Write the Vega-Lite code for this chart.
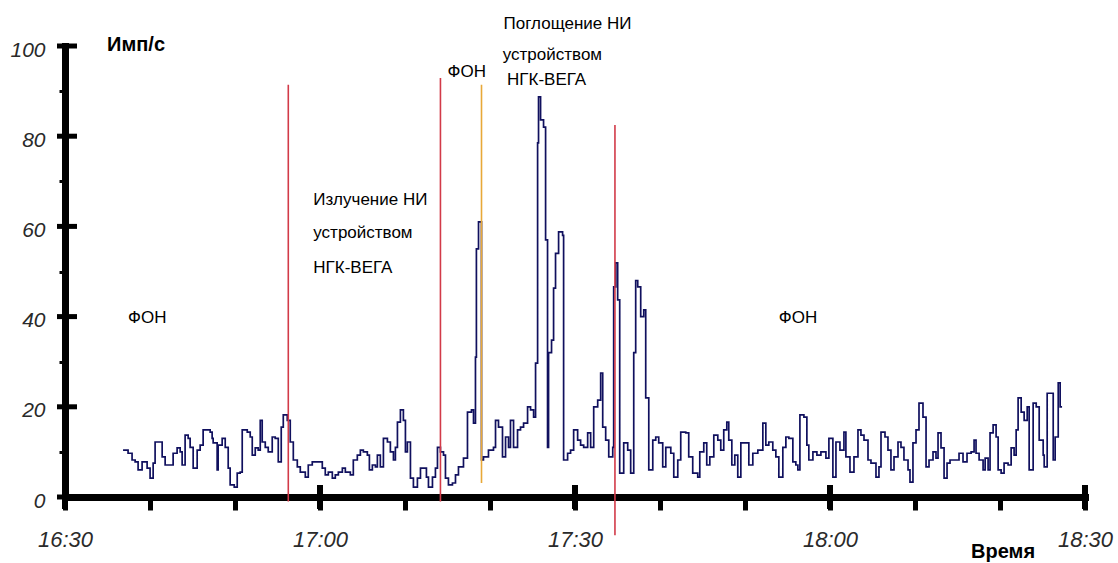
{
  "$schema": "https://vega.github.io/schema/vega-lite/v6.json",
  "width": 1020,
  "height": 451,
  "autosize": {"type": "none"},
  "padding": {"left": 65, "top": 46, "right": 33, "bottom": 66},
  "background": "white",
  "config": {"view": {"stroke": null}, "axis": {"grid": false}},
  "datasets": {
    "signal": [
      {"t":6.83,"v":10.4},{"t":7.42,"v":9.7},{"t":7.89,"v":8.2},{"t":8.25,"v":7.8},{"t":8.60,"v":6.0},{"t":9.07,"v":7.8},{"t":9.66,"v":6.4},{"t":10.01,"v":4.2},{"t":10.37,"v":7.5},{"t":10.60,"v":12.2},{"t":11.43,"v":8.9},{"t":11.78,"v":7.1},{"t":12.72,"v":9.7},{"t":13.19,"v":10.9},{"t":13.55,"v":10.0},{"t":13.78,"v":7.1},{"t":14.13,"v":13.7},{"t":14.49,"v":13.0},{"t":14.72,"v":11.0},{"t":15.08,"v":6.4},{"t":15.55,"v":10.4},{"t":15.90,"v":11.5},{"t":16.25,"v":14.9},{"t":17.08,"v":14.4},{"t":17.31,"v":13.0},{"t":17.43,"v":12.0},{"t":17.90,"v":6.0},{"t":18.02,"v":11.5},{"t":18.49,"v":13.0},{"t":18.85,"v":11.0},{"t":19.20,"v":6.4},{"t":19.43,"v":2.7},{"t":19.91,"v":2.2},{"t":20.26,"v":5.3},{"t":20.61,"v":5.5},{"t":20.85,"v":14.9},{"t":21.44,"v":14.4},{"t":21.79,"v":13.3},{"t":22.03,"v":9.3},{"t":22.38,"v":10.9},{"t":22.73,"v":10.4},{"t":22.97,"v":17.0},{"t":23.20,"v":12.2},{"t":23.56,"v":11.0},{"t":23.91,"v":10.0},{"t":24.38,"v":13.3},{"t":24.73,"v":13.0},{"t":25.09,"v":7.8},{"t":25.44,"v":15.5},{"t":25.68,"v":18.2},{"t":26.15,"v":17.0},{"t":26.50,"v":12.2},{"t":26.86,"v":8.2},{"t":27.33,"v":6.7},{"t":27.68,"v":5.5},{"t":28.27,"v":4.4},{"t":28.62,"v":7.1},{"t":29.09,"v":7.8},{"t":30.27,"v":6.4},{"t":30.62,"v":4.9},{"t":30.98,"v":5.5},{"t":31.45,"v":4.2},{"t":31.80,"v":4.9},{"t":32.16,"v":5.5},{"t":32.63,"v":6.4},{"t":32.98,"v":5.5},{"t":33.57,"v":4.9},{"t":33.92,"v":8.2},{"t":34.39,"v":9.3},{"t":34.75,"v":10.4},{"t":35.10,"v":10.0},{"t":35.57,"v":9.3},{"t":35.81,"v":6.0},{"t":36.16,"v":7.1},{"t":36.52,"v":6.7},{"t":36.75,"v":9.3},{"t":37.10,"v":6.7},{"t":37.46,"v":13.0},{"t":37.93,"v":12.2},{"t":38.28,"v":10.0},{"t":38.64,"v":8.2},{"t":38.87,"v":11.0},{"t":39.11,"v":16.6},{"t":39.46,"v":19.3},{"t":39.81,"v":17.0},{"t":40.05,"v":10.0},{"t":40.28,"v":12.2},{"t":40.64,"v":4.2},{"t":40.99,"v":2.2},{"t":41.46,"v":4.2},{"t":41.82,"v":6.4},{"t":42.52,"v":4.4},{"t":42.76,"v":2.2},{"t":43.23,"v":4.4},{"t":43.58,"v":6.4},{"t":43.82,"v":11.0},{"t":44.17,"v":10.0},{"t":44.53,"v":9.3},{"t":44.76,"v":4.2},{"t":45.11,"v":2.7},{"t":45.58,"v":3.1},{"t":45.94,"v":4.9},{"t":46.29,"v":6.7},{"t":46.88,"v":8.6},{"t":47.35,"v":18.8},{"t":47.82,"v":19.3},{"t":48.06,"v":16.4},{"t":48.29,"v":31.0},{"t":48.40,"v":55.0},{"t":48.65,"v":61.0},{"t":49.00,"v":8.2},{"t":49.23,"v":8.9},{"t":49.82,"v":10.4},{"t":50.41,"v":11.0},{"t":50.65,"v":17.0},{"t":51.00,"v":15.5},{"t":51.47,"v":8.9},{"t":51.83,"v":13.3},{"t":52.18,"v":11.0},{"t":52.41,"v":17.0},{"t":52.77,"v":11.0},{"t":53.24,"v":14.9},{"t":53.59,"v":15.5},{"t":53.95,"v":16.4},{"t":54.42,"v":20.0},{"t":54.77,"v":19.3},{"t":55.13,"v":17.7},{"t":55.36,"v":29.7},{"t":55.60,"v":78.5},{"t":55.71,"v":88.7},{"t":55.95,"v":83.6},{"t":56.30,"v":82.0},{"t":56.54,"v":57.0},{"t":56.77,"v":11.0},{"t":56.89,"v":32.0},{"t":57.24,"v":34.8},{"t":57.48,"v":46.3},{"t":57.71,"v":54.0},{"t":58.07,"v":58.8},{"t":58.54,"v":58.0},{"t":58.66,"v":8.2},{"t":59.13,"v":9.7},{"t":59.48,"v":10.4},{"t":59.84,"v":14.9},{"t":60.31,"v":12.6},{"t":60.66,"v":11.5},{"t":61.02,"v":11.0},{"t":61.49,"v":14.2},{"t":61.84,"v":11.0},{"t":62.20,"v":20.0},{"t":62.67,"v":21.5},{"t":63.02,"v":27.5},{"t":63.26,"v":15.5},{"t":63.61,"v":12.6},{"t":63.97,"v":8.9},{"t":64.44,"v":11.0},{"t":64.55,"v":46.6},{"t":64.79,"v":51.9},{"t":65.02,"v":43.7},{"t":65.26,"v":5.3},{"t":65.73,"v":12.0},{"t":66.20,"v":10.4},{"t":66.55,"v":5.3},{"t":66.91,"v":32.0},{"t":67.14,"v":48.0},{"t":67.38,"v":46.6},{"t":67.73,"v":40.0},{"t":68.09,"v":41.5},{"t":68.32,"v":22.0},{"t":68.68,"v":6.0},{"t":69.15,"v":12.6},{"t":69.50,"v":13.3},{"t":69.85,"v":12.0},{"t":70.32,"v":6.7},{"t":70.68,"v":11.0},{"t":71.27,"v":9.7},{"t":71.62,"v":4.4},{"t":72.09,"v":8.2},{"t":72.44,"v":14.4},{"t":73.03,"v":14.2},{"t":73.38,"v":8.9},{"t":73.85,"v":5.3},{"t":74.44,"v":4.4},{"t":74.68,"v":10.0},{"t":75.15,"v":12.0},{"t":75.50,"v":7.1},{"t":75.86,"v":8.9},{"t":76.33,"v":13.7},{"t":76.80,"v":12.6},{"t":77.15,"v":10.4},{"t":77.50,"v":14.9},{"t":77.86,"v":16.6},{"t":78.09,"v":12.6},{"t":78.45,"v":7.1},{"t":78.80,"v":9.3},{"t":79.15,"v":4.4},{"t":79.51,"v":12.0},{"t":80.45,"v":7.1},{"t":80.92,"v":9.7},{"t":81.51,"v":10.4},{"t":82.10,"v":16.4},{"t":82.45,"v":11.5},{"t":82.80,"v":12.2},{"t":83.27,"v":10.4},{"t":83.63,"v":8.9},{"t":83.98,"v":4.4},{"t":84.45,"v":11.0},{"t":84.81,"v":13.3},{"t":85.16,"v":13.0},{"t":85.63,"v":7.8},{"t":85.98,"v":7.1},{"t":86.22,"v":6.0},{"t":86.46,"v":18.2},{"t":86.93,"v":17.7},{"t":87.28,"v":11.5},{"t":87.51,"v":8.2},{"t":87.99,"v":10.0},{"t":88.46,"v":9.3},{"t":88.93,"v":10.0},{"t":89.52,"v":8.6},{"t":89.87,"v":13.0},{"t":90.34,"v":4.4},{"t":90.70,"v":12.2},{"t":91.17,"v":10.4},{"t":91.64,"v":14.4},{"t":91.87,"v":8.9},{"t":92.35,"v":5.5},{"t":92.82,"v":8.9},{"t":93.29,"v":14.9},{"t":93.64,"v":13.7},{"t":94.00,"v":12.6},{"t":94.47,"v":8.2},{"t":94.82,"v":7.5},{"t":95.41,"v":4.4},{"t":95.76,"v":6.7},{"t":96.00,"v":14.4},{"t":96.47,"v":13.3},{"t":96.82,"v":10.4},{"t":97.17,"v":6.0},{"t":97.53,"v":8.9},{"t":98.00,"v":12.2},{"t":98.35,"v":11.0},{"t":98.70,"v":8.2},{"t":99.18,"v":6.0},{"t":99.41,"v":3.3},{"t":99.76,"v":12.0},{"t":100.12,"v":14.9},{"t":100.47,"v":20.8},{"t":100.94,"v":17.7},{"t":101.30,"v":6.7},{"t":101.65,"v":8.2},{"t":102.12,"v":10.0},{"t":102.47,"v":8.6},{"t":102.71,"v":14.2},{"t":103.06,"v":10.9},{"t":103.42,"v":4.2},{"t":103.77,"v":7.5},{"t":104.12,"v":8.2},{"t":105.18,"v":9.7},{"t":105.65,"v":7.8},{"t":106.12,"v":9.7},{"t":106.60,"v":10.0},{"t":106.95,"v":12.6},{"t":107.18,"v":9.7},{"t":107.54,"v":8.2},{"t":108.01,"v":6.0},{"t":108.25,"v":8.6},{"t":108.60,"v":6.0},{"t":108.83,"v":14.2},{"t":109.19,"v":16.0},{"t":109.54,"v":13.3},{"t":109.78,"v":6.0},{"t":110.13,"v":5.3},{"t":110.48,"v":7.5},{"t":110.95,"v":7.1},{"t":111.31,"v":10.9},{"t":111.66,"v":9.3},{"t":111.90,"v":14.9},{"t":112.13,"v":22.0},{"t":112.49,"v":18.8},{"t":112.84,"v":17.0},{"t":113.20,"v":20.0},{"t":113.43,"v":6.0},{"t":113.90,"v":20.8},{"t":114.26,"v":20.0},{"t":114.61,"v":12.6},{"t":115.08,"v":9.3},{"t":115.20,"v":6.7},{"t":115.55,"v":23.0},{"t":116.26,"v":8.2},{"t":116.49,"v":13.3},{"t":116.85,"v":25.3},{"t":117.08,"v":20.0},{"t":117.30,"v":20.0}
    ],
    "markers": [
      {"t": 26.27, "v1": -1, "v2": 91.4, "kind": "boundary"},
      {"t": 44.17, "v1": -1, "v2": 92.9, "kind": "boundary"},
      {"t": 49.0, "v1": 3.1, "v2": 91.4, "kind": "background"},
      {"t": 64.7, "v1": -8.5, "v2": 82.5, "kind": "boundary"}
    ],
    "xMajor": [{"t": 0, "v": 0}, {"t": 30, "v": 0}, {"t": 60, "v": 0}, {"t": 90, "v": 0}, {"t": 120, "v": 0}],
    "yMajor": [{"t": 0, "v": 0}, {"t": 0, "v": 20}, {"t": 0, "v": 40}, {"t": 0, "v": 60}, {"t": 0, "v": 80}, {"t": 0, "v": 100}],
    "notes": [
      {"t": 7.42, "v": 39.7, "text": "ФОН"},
      {"t": 29.21, "v": 65.9, "text": "Излучение НИ"},
      {"t": 29.21, "v": 58.6, "text": "устройством"},
      {"t": 29.21, "v": 50.8, "text": "НГК-ВЕГА"},
      {"t": 45.0, "v": 94.2, "text": "ФОН"},
      {"t": 51.6, "v": 104.9, "text": "Поглощение НИ"},
      {"t": 51.5, "v": 98.0, "text": "устройством"},
      {"t": 52.0, "v": 92.5, "text": "НГК-ВЕГА"},
      {"t": 83.98, "v": 39.7, "text": "ФОН"}
    ],
    "titles": [
      {"t": 4.95, "v": 100.2, "text": "Имп/с"},
      {"t": 106.6, "v": -12.2, "text": "Время"}
    ]
  },
  "layer": [
    {
      "data": {"name": "signal"},
      "mark": {"type": "line", "interpolate": "step-after", "color": "#10105e", "strokeWidth": 1.7},
      "encoding": {
        "x": {"field": "t", "type": "quantitative",
          "scale": {"domain": [0, 120], "nice": false, "zero": false},
          "axis": {"orient": "bottom", "title": null, "values": [0,10,20,30,40,50,60,70,80,90,100,110,120],
            "labelExpr": "datum.value == 0 ? '16:30' : datum.value == 30 ? '17:00' : datum.value == 60 ? '17:30' : datum.value == 90 ? '18:00' : datum.value == 120 ? '18:30' : ''",
            "labelFlush": false, "labelOverlap": false, "labelBound": false,
            "labelFont": "Liberation Sans", "labelFontStyle": "italic", "labelFontSize": 22, "labelColor": "#2a2a2a",
            "labelPadding": 19, "tickSize": 13, "tickWidth": 5, "tickColor": "black",
            "domainColor": "black", "domainWidth": 7, "domainCap": "square"}},
        "y": {"field": "v", "type": "quantitative",
          "scale": {"domain": [0, 100], "nice": false},
          "axis": {"orient": "left", "title": null, "values": [0,5,10,15,20,25,30,35,40,45,50,55,60,65,70,75,80,85,90,95,100],
            "labelExpr": "datum.value % 20 == 0 ? datum.value : ''",
            "labelOverlap": false, "labelBound": false, "labelFlush": false,
            "labelFont": "Liberation Sans", "labelFontStyle": "italic", "labelFontSize": 21, "labelColor": "#2a2a2a",
            "labelPadding": 14, "labelOffset": 4, "tickSize": 6, "tickWidth": 3, "tickColor": "black",
            "domainColor": "black", "domainWidth": 7, "domainCap": "square"}}
      }
    },
    {
      "data": {"name": "xMajor"},
      "mark": {"type": "tick", "orient": "vertical", "size": 24, "thickness": 6, "color": "black", "opacity": 1},
      "encoding": {
        "x": {"field": "t", "type": "quantitative"},
        "y": {"field": "v", "type": "quantitative"}
      }
    },
    {
      "data": {"name": "yMajor"},
      "mark": {"type": "tick", "orient": "horizontal", "size": 20, "thickness": 5, "color": "black", "opacity": 1, "xOffset": 2},
      "encoding": {
        "x": {"field": "t", "type": "quantitative"},
        "y": {"field": "v", "type": "quantitative"}
      }
    },
    {
      "data": {"name": "markers"},
      "mark": {"type": "rule", "strokeWidth": 1.6},
      "encoding": {
        "x": {"field": "t", "type": "quantitative"},
        "y": {"field": "v1", "type": "quantitative"},
        "y2": {"field": "v2"},
        "color": {"field": "kind", "type": "nominal",
          "scale": {"domain": ["boundary", "background"], "range": ["#d23a48", "#e8a838"]},
          "legend": null}
      }
    },
    {
      "data": {"name": "notes"},
      "mark": {"type": "text", "align": "left", "baseline": "middle", "font": "Liberation Sans", "fontSize": 17, "color": "black"},
      "encoding": {
        "x": {"field": "t", "type": "quantitative"},
        "y": {"field": "v", "type": "quantitative"},
        "text": {"field": "text"}
      }
    },
    {
      "data": {"name": "titles"},
      "mark": {"type": "text", "align": "left", "baseline": "middle", "font": "Liberation Sans", "fontSize": 20, "fontWeight": "bold", "color": "black"},
      "encoding": {
        "x": {"field": "t", "type": "quantitative"},
        "y": {"field": "v", "type": "quantitative"},
        "text": {"field": "text"}
      }
    }
  ]
}
